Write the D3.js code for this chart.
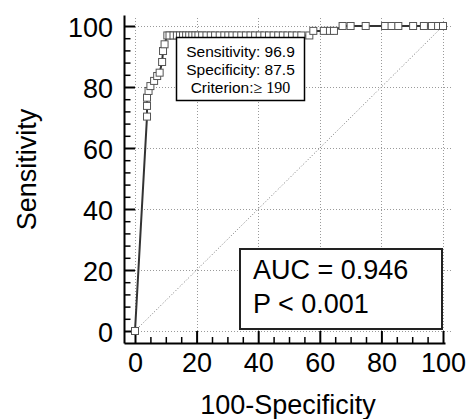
<!DOCTYPE html>
<html>
<head>
<meta charset="utf-8">
<script src="https://cdn.jsdelivr.net/npm/d3@7/dist/d3.min.js"></script>
<style>
  html, body { margin: 0; padding: 0; background: #fff; }
  svg { display: block; }
  text { font-family: "Liberation Sans", Arial, sans-serif; fill: #000; }
</style>
</head>
<body>
<svg id="chart" width="473" height="419"></svg>
<script>
// ---- Data ----
const fpr = [0, 3.9, 3.9, 3.9, 4.4, 5.0, 6.2, 7.2, 8.0, 8.8, 9.1, 9.6, 10.5,
  11.2, 12.5, 13.6, 14.6, 15.6, 16.6, 17.6, 18.6, 19.6, 20.6, 21.8, 23.2, 24.6, 26.0,
  27.5, 29.0, 30.3, 31.6, 33.0, 34.5, 36.0, 37.5, 39.0, 40.5, 42.0, 43.5, 45.0, 46.5,
  48.0, 49.5, 51.0, 52.5, 54.0, 56.6,
  57.9, 61.3, 63.3, 64.6,
  67.4, 70.0, 74.9, 81.2, 83.3, 85.5, 90.3, 93.8, 96.4, 98.4, 100];
const sens = [0, 70.3, 73.8, 76.5, 78.7, 80.3, 82.0, 83.6, 84.7, 88.2, 91.8, 94.0, 96.9,
  96.9, 96.9, 96.9, 96.9, 96.9, 96.9, 96.9, 96.9, 96.9, 96.9, 96.9, 96.9, 96.9, 96.9,
  96.9, 96.9, 96.9, 96.9, 96.9, 96.9, 96.9, 96.9, 96.9, 96.9, 96.9, 96.9, 96.9, 96.9,
  96.9, 96.9, 96.9, 96.9, 96.9, 96.9,
  98.4, 98.4, 98.4, 98.4,
  100, 100, 100, 100, 100, 100, 100, 100, 100, 100, 100];
const majorTicks = [0, 20, 40, 60, 80, 100];
const xMinorStep = 5;
const yMinorStep = 4;
const xTitle = "100-Specificity";
const yTitle = "Sensitivity";
const infoLines = ["Sensitivity: 96.9", "Specificity: 87.5"];
const criterionLabel = "Criterion:";
const criterionValue = "\u2265 190";
const aucLines = ["AUC = 0.946", "P < 0.001"];

// ---- Layout ----
const svg = d3.select("#chart");
const x = d3.scaleLinear().domain([0, 100]).range([135, 443]);
const y = d3.scaleLinear().domain([0, 100]).range([331, 26]);
// axis scales extend slightly beyond the data range (same px/unit)
const xAxisScale = x.copy().domain([x.invert(124), x.invert(445)]).range([124, 445]);
const yAxisScale = y.copy().domain([y.invert(343), y.invert(15)]).range([343, 15]);

const font = 27;

// grid lines
const grid = svg.append("g").attr("stroke", "#9a9a9a").attr("stroke-width", 1)
  .attr("stroke-dasharray", "1,2");
grid.selectAll("line.h").data(majorTicks).join("line")
  .attr("x1", x(0)).attr("x2", x.range()[1] + 9)
  .attr("y1", d => Math.round(y(d)) + 0.5).attr("y2", d => Math.round(y(d)) + 0.5);
grid.selectAll("line.v").data(majorTicks).join("line")
  .attr("y1", y(0)).attr("y2", y.range()[1] - 9)
  .attr("x1", d => Math.round(x(d)) + 0.5).attr("x2", d => Math.round(x(d)) + 0.5);

// diagonal reference line
svg.append("line")
  .attr("x1", x(0)).attr("y1", y(0)).attr("x2", x(100)).attr("y2", y(100))
  .attr("stroke", "#777").attr("stroke-width", 1).attr("stroke-dasharray", "1,2");

// axes
const xMinor = d3.range(0, 100.01, xMinorStep).filter(v => !majorTicks.includes(v));
const yMinor = d3.range(0, 100.01, yMinorStep).filter(v => !majorTicks.includes(v));

const xAxisG = svg.append("g").attr("transform", "translate(0,343)")
  .call(d3.axisBottom(xAxisScale).tickValues(majorTicks).tickSizeInner(-12).tickSizeOuter(0).tickPadding(10).tickFormat(d3.format("d")));
svg.append("g").attr("transform", "translate(0,343)")
  .call(d3.axisBottom(xAxisScale).tickValues(xMinor).tickSizeInner(-6).tickSizeOuter(0).tickFormat(""))
  .select(".domain").remove();

const yAxisG = svg.append("g").attr("transform", "translate(124,0)")
  .call(d3.axisLeft(yAxisScale).tickValues(majorTicks).tickSizeInner(-11).tickSizeOuter(0).tickPadding(11).tickFormat(d3.format("d")));
svg.append("g").attr("transform", "translate(124,0)")
  .call(d3.axisLeft(yAxisScale).tickValues(yMinor).tickSizeInner(-6.5).tickSizeOuter(0).tickFormat(""))
  .select(".domain").remove();

svg.selectAll(".domain").attr("stroke", "#000").attr("stroke-width", 2);
svg.selectAll(".tick line").attr("stroke", "#000").attr("stroke-width", 1.5);
xAxisG.selectAll(".tick line").attr("stroke-width", 2);
yAxisG.selectAll(".tick line").attr("stroke-width", 2);
svg.selectAll(".tick text").attr("font-family", "Liberation Sans, Arial, sans-serif")
  .attr("font-size", font).attr("fill", "#000");
yAxisG.selectAll(".tick text").attr("dy", "0.37em");

// axis titles
svg.append("text").attr("x", (x(0) + x(100)) / 2 - 1).attr("y", 414)
  .attr("text-anchor", "middle").attr("font-size", font).text(xTitle);
svg.append("text").attr("transform", `translate(36,${(y(0) + y(100)) / 2 - 9}) rotate(-90)`)
  .attr("text-anchor", "middle").attr("font-size", font).text(yTitle);

// ROC curve
const pts = fpr.map((f, i) => [f, sens[i]]);
svg.append("path").datum(pts)
  .attr("d", d3.line().x(d => x(d[0])).y(d => y(d[1])))
  .attr("fill", "none").attr("stroke", "#333").attr("stroke-width", 2);
const ms = 7;
svg.append("g").selectAll("rect").data(pts).join("rect")
  .attr("x", d => x(d[0]) - ms / 2).attr("y", d => y(d[1]) - ms / 2)
  .attr("width", ms).attr("height", ms)
  .attr("fill", "#fff").attr("stroke", "#555").attr("stroke-width", 1);

// info box (criterion)
const ib = svg.append("g");
ib.append("rect").attr("x", 176.5).attr("y", 37.5).attr("width", 128).attr("height", 63)
  .attr("fill", "#fff").attr("stroke", "#000").attr("stroke-width", 1.5);
infoLines.forEach((t, i) => {
  ib.append("text").attr("x", 240.5).attr("y", 57 + i * 18)
    .attr("text-anchor", "middle").attr("font-size", 15.5).text(t);
});
const ct = ib.append("text").attr("x", 240.5).attr("y", 93)
  .attr("text-anchor", "middle").attr("font-size", 15.5);
ct.append("tspan").text(criterionLabel);
ct.append("tspan").attr("font-family", "Liberation Serif, Times New Roman, serif")
  .attr("font-size", 16).text(criterionValue);

// AUC box
const ab = svg.append("g");
ab.append("rect").attr("x", 240).attr("y", 249).attr("width", 202).attr("height", 80)
  .attr("fill", "#fff").attr("stroke", "#222").attr("stroke-width", 2);
aucLines.forEach((t, i) => {
  ab.append("text").attr("x", 253).attr("y", 279 + i * 34)
    .attr("font-size", font).text(t);
});
</script>
</body>
</html>
